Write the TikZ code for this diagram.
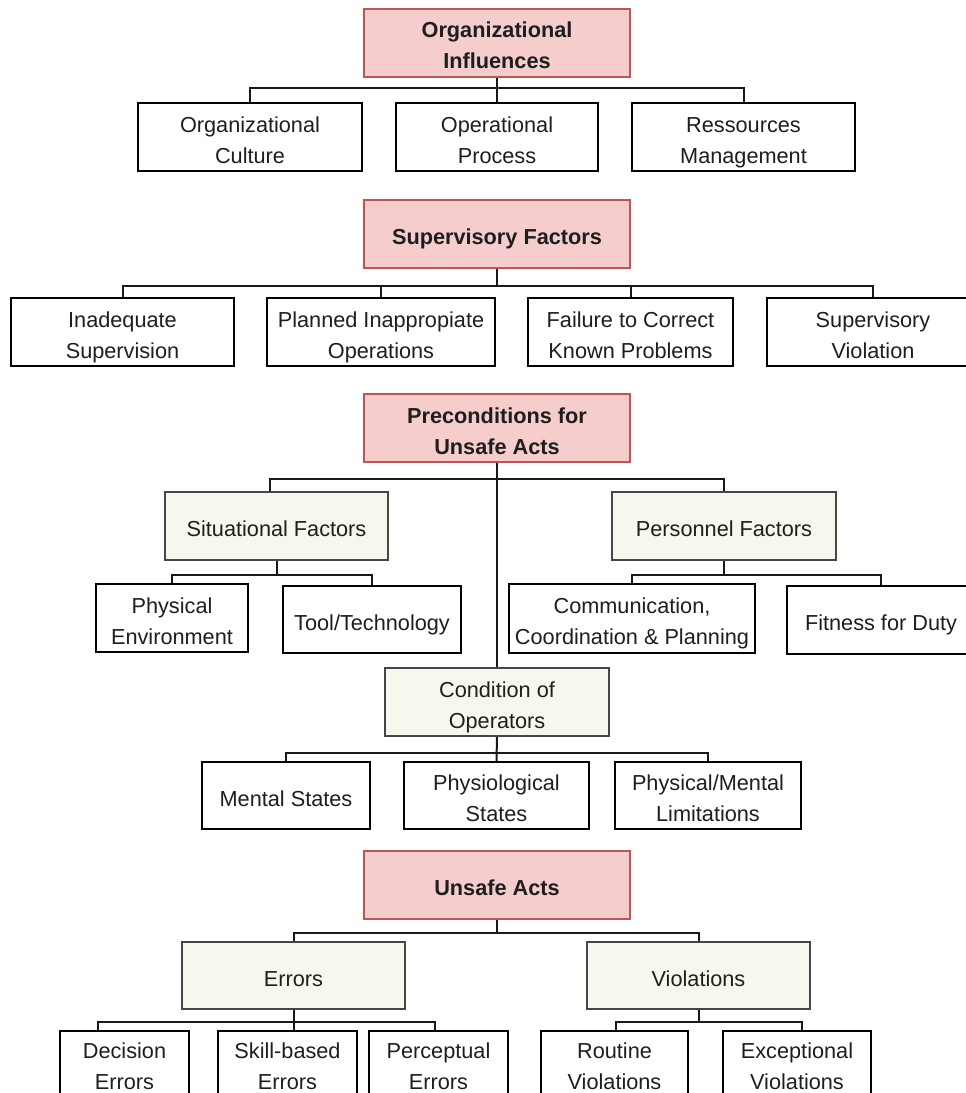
\documentclass[tikz,border=0pt]{standalone}
\usepackage{fontspec}
\setmainfont{Liberation Sans}
\definecolor{redfill}{RGB}{245,205,205}
\definecolor{redline}{RGB}{196,84,84}
\definecolor{creamfill}{RGB}{248,247,237}
\definecolor{creamline}{RGB}{70,70,70}
\definecolor{txt}{RGB}{30,30,30}
\newcommand\topstr{\rule{0pt}{26pt}}
\begin{document}
\begin{tikzpicture}[x=1pt,y=-1pt,
  base/.style={rectangle, inner sep=0pt, align=center, text=txt,
    font=\fontsize{21.7}{31}\selectfont,
    execute at end node={\rule[-5pt]{0pt}{5pt}}},
  redbox/.style={base, draw=redline, fill=redfill, line width=2pt,
    minimum width=266pt, minimum height=68pt,
    font=\fontsize{21.7}{31}\selectfont\bfseries},
  creambox/.style={base, draw=creamline, fill=creamfill, line width=2pt},
  plainbox/.style={base, draw=black, fill=white, line width=2pt},
  conn/.style={draw=black!90, line width=2pt}]
\useasboundingbox (0,0) rectangle (966,1093);
\clip (0,0) rectangle (966,1093);
\fill[white] (0,0) rectangle (966,1093);

% Level 1
\node[redbox] (oi) at (497,42.5) {\topstr Organizational\\Influences};
\node[plainbox, minimum width=224pt, minimum height=68pt] (oc) at (250,137) {\topstr Organizational\\Culture};
\node[plainbox, minimum width=202pt, minimum height=68pt] (op) at (497,137) {\topstr Operational\\Process};
\node[plainbox, minimum width=223pt, minimum height=68pt] (rm) at (743.5,137) {\topstr Ressources\\Management};

% Level 2
\node[redbox] (sf) at (497,234) {\topstr Supervisory Factors};
\node[plainbox, minimum width=223pt, minimum height=68pt] (is) at (122.5,332) {\topstr Inadequate\\Supervision};
\node[plainbox, minimum width=228pt, minimum height=68pt] (pi) at (381,332) {\topstr Planned Inappropiate\\Operations};
\node[plainbox, minimum width=205pt, minimum height=68pt] (fc) at (630.5,332) {\topstr Failure to Correct\\Known Problems};
\node[plainbox, minimum width=212pt, minimum height=68pt] (sv) at (873,332) {\topstr Supervisory\\Violation};

% Level 3
\node[redbox] (pc) at (497,428) {\topstr Preconditions for\\Unsafe Acts};
\node[creambox, minimum width=223pt, minimum height=68pt] (sit) at (276.5,526) {\topstr Situational Factors};
\node[creambox, minimum width=224pt, minimum height=68pt] (per) at (724,526) {\topstr Personnel Factors};
\node[plainbox, minimum width=152pt, minimum height=68pt] (pe) at (172,618) {\topstr Physical\\Environment};
\node[plainbox, minimum width=178pt, minimum height=67pt] (tt) at (372,619.5) {\topstr Tool/Technology};
\node[plainbox, minimum width=246pt, minimum height=69pt] (cc) at (632,618.5) {\topstr Communication,\\Coordination \& Planning};
\node[plainbox, minimum width=188pt, minimum height=68pt] (fd) at (881,620) {\topstr Fitness for Duty};
\node[creambox, minimum width=224pt, minimum height=68pt] (co) at (497,702) {\topstr Condition of\\Operators};
\node[plainbox, minimum width=168pt, minimum height=67pt] (ms) at (286,795.5) {\topstr Mental States};
\node[plainbox, minimum width=185pt, minimum height=67pt] (ps) at (496.5,795.5) {\topstr Physiological\\States};
\node[plainbox, minimum width=186pt, minimum height=67pt] (pm) at (708,795.5) {\topstr Physical/Mental\\Limitations};

% Level 4
\node[redbox] (ua) at (497,884.5) {\topstr Unsafe Acts};
\node[creambox, minimum width=223pt, minimum height=67pt] (err) at (293.5,975.5) {\topstr Errors};
\node[creambox, minimum width=223pt, minimum height=67pt] (vio) at (698.5,975.5) {\topstr Violations};
\node[plainbox, minimum width=129pt, minimum height=64pt] (de) at (124.5,1063) {\topstr Decision\\Errors};
\node[plainbox, minimum width=139pt, minimum height=64pt] (sb) at (287.5,1063) {\topstr Skill-based\\Errors};
\node[plainbox, minimum width=139pt, minimum height=64pt] (pp) at (438.5,1063) {\topstr Perceptual\\Errors};
\node[plainbox, minimum width=147pt, minimum height=64pt] (rv) at (614.5,1063) {\topstr Routine\\Violations};
\node[plainbox, minimum width=148pt, minimum height=64pt] (ev) at (797,1063) {\topstr Exceptional\\Violations};

% Connectors level 1
\coordinate (b1) at (0,88);
\draw[conn] (oi.south) -- (oi.south |- b1);
\draw[conn] (oc.north) -- (oc.north |- b1) -- (rm.north |- b1) -- (rm.north);
\draw[conn] (op.north) -- (op.north |- b1);

% Connectors level 2
\coordinate (b2) at (0,286);
\draw[conn] (sf.south) -- (sf.south |- b2);
\draw[conn] (is.north) -- (is.north |- b2) -- (sv.north |- b2) -- (sv.north);
\draw[conn] (pi.north) -- (pi.north |- b2);
\draw[conn] (fc.north) -- (fc.north |- b2);

% Connectors level 3
\coordinate (b3) at (0,479);
\coordinate (sitc) at ([xshift=-7pt]sit.north);
\draw[conn] (pc.south) -- (co.north);
\draw[conn] (sitc) -- (sitc |- b3) -- (per.north |- b3) -- (per.north);
\coordinate (b4) at (0,575);
\draw[conn] (sit.south) -- (sit.south |- b4);
\draw[conn] (pe.north) -- (pe.north |- b4) -- (tt.north |- b4) -- (tt.north);
\draw[conn] (per.south) -- (per.south |- b4);
\draw[conn] (cc.north) -- (cc.north |- b4) -- (fd.north |- b4) -- (fd.north);
\coordinate (b5) at (0,753);
\draw[conn] (co.south) -- (ps.north);
\draw[conn] (ms.north) -- (ms.north |- b5) -- (pm.north |- b5) -- (pm.north);

% Connectors level 4
\coordinate (b6) at (0,933);
\draw[conn] (ua.south) -- (ua.south |- b6);
\draw[conn] (err.north) -- (err.north |- b6) -- (vio.north |- b6) -- (vio.north);
\coordinate (b7) at (0,1022);
\coordinate (dec) at ([xshift=-26.5pt]de.north);
\coordinate (sbc) at ([xshift=6.5pt]sb.north);
\coordinate (ppc) at ([xshift=-3.5pt]pp.north);
\coordinate (rvc) at ([xshift=1.5pt]rv.north);
\coordinate (evc) at ([xshift=5pt]ev.north);
\draw[conn] (err.south) -- (err.south |- b7);
\draw[conn] (dec) -- (dec |- b7) -- (ppc |- b7) -- (ppc);
\draw[conn] (sbc) -- (sbc |- b7);
\draw[conn] (vio.south) -- (vio.south |- b7);
\draw[conn] (rvc) -- (rvc |- b7) -- (evc |- b7) -- (evc);
\end{tikzpicture}
\end{document}
